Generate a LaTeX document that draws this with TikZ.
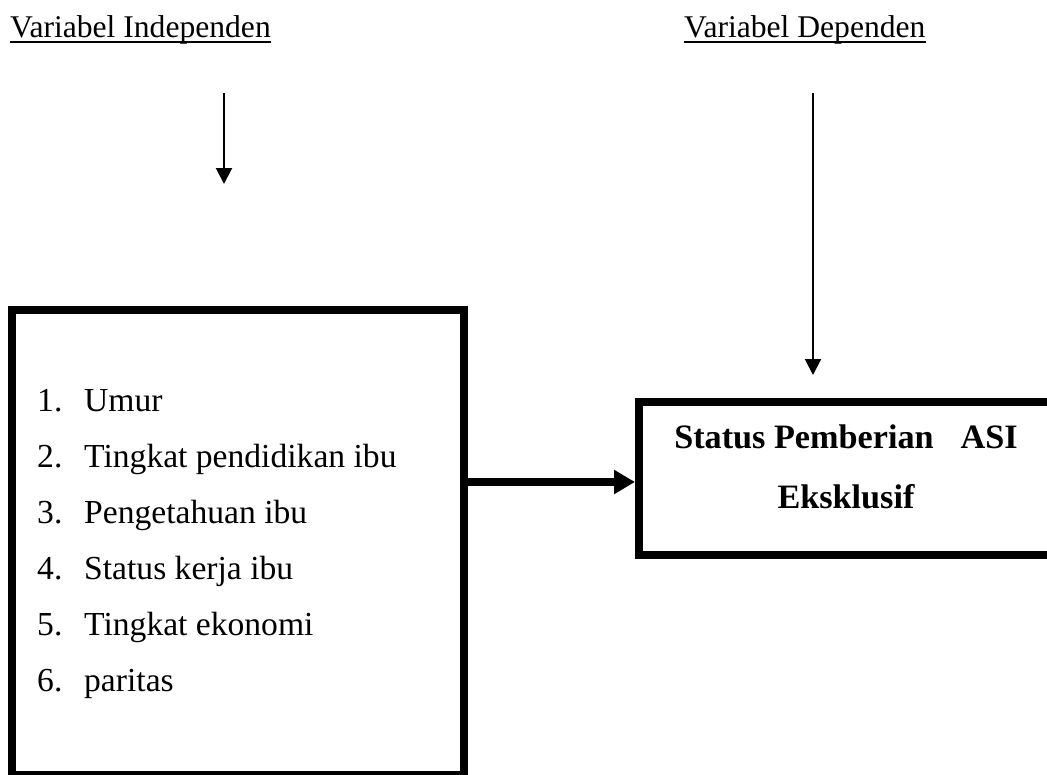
\documentclass[tikz,border=0pt]{standalone}
\usepackage{fontspec}
\setmainfont{Liberation Serif}
\usetikzlibrary{arrows.meta}
\begin{document}
\begin{tikzpicture}[x=1pt,y=1pt,
  frame/.style={draw, line width=8pt, outer sep=4pt, inner sep=0pt},
  hdr/.style={inner sep=0pt, anchor=base west, font=\fontsize{31.6}{38}\selectfont},
  uline/.style={line width=1.8pt},
  thinarrow/.style={line width=2pt, -{Triangle[length=16pt,width=16pt]}},
  thickarrow/.style={line width=8pt, -{Triangle[length=21pt,width=23pt]}}]
\useasboundingbox (0,0) rectangle (1047,-774);
% boxes
\node[frame, minimum width=452pt, minimum height=465pt] (indep) at (238,-542.5) {};
\node[frame, minimum width=412pt, minimum height=153pt] (dep) at (845,-478.5) {};
% headers
\node[hdr] (h1) at (10,-37) {Variabel Independen};
\node[hdr] (h2) at (684,-37) {Variabel Dependen};
\draw[uline] ([yshift=-5pt]h1.base west) -- ([yshift=-5pt]h1.base east);
\draw[uline] ([yshift=-5pt]h2.base west) -- ([yshift=-5pt]h2.base east);
% vertical arrows
\coordinate (s1) at (224,-93);
\coordinate (e1) at (224,-184);
\coordinate (s2) at (813,-93);
\coordinate (e2) at (813,-375);
\draw[thinarrow] (s1) -- (e1);
\draw[thinarrow] (s2) -- (e2);
% list
\node[inner sep=0pt, anchor=north west, align=left, font=\fontsize{33.6}{56}\selectfont] (items) at (37,-389.5)
 {\makebox[47pt][l]{1.}Umur\\
  \makebox[47pt][l]{2.}Tingkat pendidikan ibu\\
  \makebox[47pt][l]{3.}Pengetahuan ibu\\
  \makebox[47pt][l]{4.}Status kerja ibu\\
  \makebox[47pt][l]{5.}Tingkat ekonomi\\
  \makebox[47pt][l]{6.}paritas};
% dependent text
\node[inner sep=0pt, anchor=north, align=center, font=\bfseries\fontsize{34.2}{60}\selectfont] (deptext) at (846,-424.8)
 {Status Pemberian\hspace{27pt}ASI\\Eksklusif};
% connector
\draw[thickarrow] (indep.east |- 0,-482) -- (dep.west |- 0,-482);
\end{tikzpicture}
\end{document}
